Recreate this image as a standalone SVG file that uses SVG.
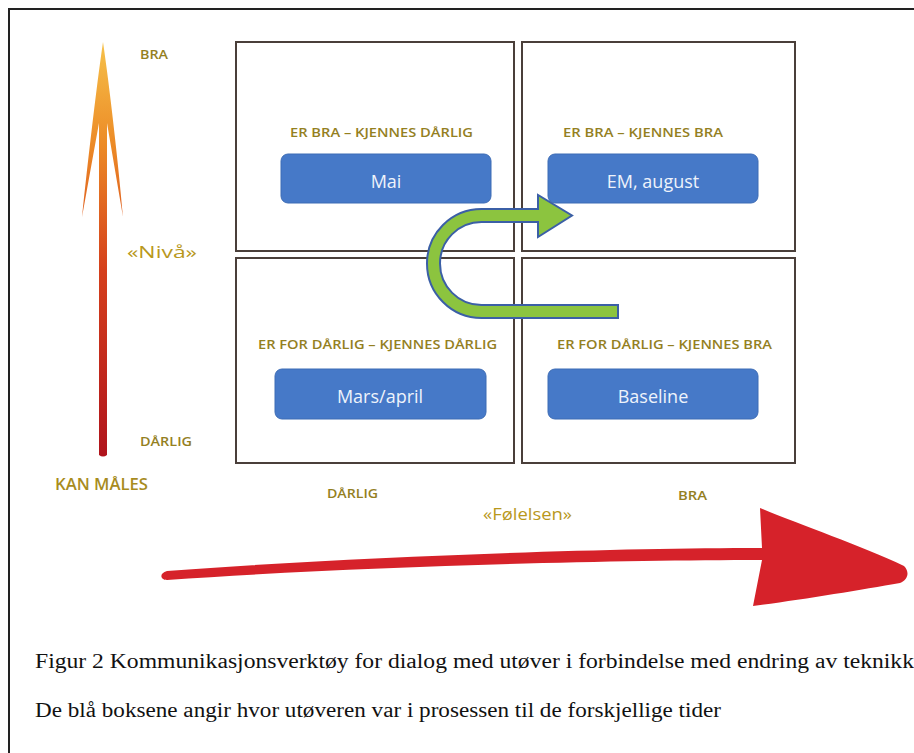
<svg xmlns="http://www.w3.org/2000/svg" width="914" height="753" viewBox="0 0 914 753">
<style>
.quad{fill:#ffffff;stroke:#4a3f3a;stroke-width:2}
.blue{fill:#4679c8;stroke:#3d6cb5;stroke-width:1}
.lbl{font-family:"Open Sans","Liberation Sans",sans-serif;font-size:13px;font-weight:600;fill:#94801f}
.big{font-family:"Open Sans","Liberation Sans",sans-serif;font-size:17px;fill:#b8981c}
.btxt{font-family:"Open Sans","Liberation Sans",sans-serif;font-size:18px;fill:#eef3fb;text-anchor:middle}
.cap{font-family:"Liberation Serif","Times New Roman",serif;font-size:20px;fill:#111}
</style>
<defs>
<linearGradient id="vgrad" x1="0" y1="1" x2="0" y2="0">
<stop offset="0" stop-color="#b0141c"/>
<stop offset="0.45" stop-color="#d5401c"/>
<stop offset="0.75" stop-color="#ec8a26"/>
<stop offset="1" stop-color="#f6c14a"/>
</linearGradient>
</defs>
<rect width="914" height="753" fill="#ffffff"/>
<path d="M9,753 V9 H914" fill="none" stroke="#222" stroke-width="2"/>

<g id="q-tl"><rect class="quad" x="236" y="42" width="278" height="209"/>
<text class="lbl" x="290" y="137" textLength="183" lengthAdjust="spacingAndGlyphs">ER BRA – KJENNES DÅRLIG</text></g>
<g id="q-tr"><rect class="quad" x="522" y="42" width="273" height="209"/>
<text class="lbl" x="563" y="137" textLength="160" lengthAdjust="spacingAndGlyphs">ER BRA – KJENNES BRA</text></g>
<g id="q-bl"><rect class="quad" x="236" y="258" width="278" height="205"/>
<text class="lbl" x="258" y="349" textLength="239" lengthAdjust="spacingAndGlyphs">ER FOR DÅRLIG – KJENNES DÅRLIG</text></g>
<g id="q-br"><rect class="quad" x="522" y="258" width="273" height="205"/>
<text class="lbl" x="557" y="349" textLength="215" lengthAdjust="spacingAndGlyphs">ER FOR DÅRLIG – KJENNES BRA</text></g>

<g id="b-mai"><rect class="blue" x="281" y="154" width="210" height="49" rx="7"/><text class="btxt" x="386" y="188">Mai</text></g>
<g id="b-em"><rect class="blue" x="548" y="154" width="210" height="49" rx="7"/><text class="btxt" x="653" y="188">EM, august</text></g>
<g id="b-mars"><rect class="blue" x="275" y="369" width="211" height="50" rx="7"/><text class="btxt" x="380" y="403">Mars/april</text></g>
<g id="b-base"><rect class="blue" x="548" y="369" width="210" height="50" rx="7"/><text class="btxt" x="653" y="403">Baseline</text></g>

<g id="connectors">
<path d="M538,209 L538,195 L572,215.5 L538,237 L538,222 L481.5,222 A41.5,41.5 0 0 0 481.5,305 L618,305 L618,318 L481.5,318 A54.5,54.5 0 0 1 481.5,209 Z" fill="#8cc43f" stroke="#3b5fa6" stroke-width="2" stroke-linejoin="miter"/>
</g>

<g id="axis-y">
<path d="M103,42 C110,90 118,160 123,217 L107,123 L107,455 Q103,458 99,455 L99,123 L82,217 C88,160 96,90 103,42 Z" fill="url(#vgrad)"/>
<text class="lbl" x="140" y="59" textLength="28" lengthAdjust="spacingAndGlyphs">BRA</text>
<text class="big" x="127" y="258" textLength="70" lengthAdjust="spacingAndGlyphs">«Nivå»</text>
<text class="lbl" x="140" y="446" textLength="52" lengthAdjust="spacingAndGlyphs">DÅRLIG</text>
<text class="big" x="55" y="490" style="font-size:16px;font-weight:600;fill:#a88c1e" textLength="93" lengthAdjust="spacingAndGlyphs">KAN MÅLES</text>
</g>

<g id="axis-x">
<path d="M167,571 C350,557 600,548 762,548 L760,508 C800,525 860,545 904,566 C910,572 908,580 900,583 C860,590 800,600 753,606 L762,560 C600,560 350,567 167,580 C160,580 159,573 167,571 Z" fill="#d6222a"/>
<text class="lbl" x="327" y="498" textLength="51" lengthAdjust="spacingAndGlyphs">DÅRLIG</text>
<text class="lbl" x="678" y="500" textLength="29" lengthAdjust="spacingAndGlyphs">BRA</text>
<text class="big" x="483" y="520" textLength="89" lengthAdjust="spacingAndGlyphs">«Følelsen»</text>
</g>

<text class="cap" x="35" y="668" textLength="879" lengthAdjust="spacingAndGlyphs">Figur 2 Kommunikasjonsverktøy for dialog med utøver i forbindelse med endring av teknikk</text>
<text class="cap" x="35" y="717" textLength="686" lengthAdjust="spacingAndGlyphs">De blå boksene angir hvor utøveren var i prosessen til de forskjellige tider</text>
</svg>
